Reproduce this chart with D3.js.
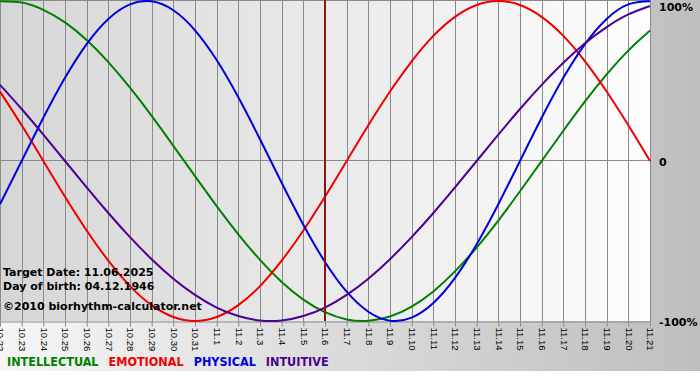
<!DOCTYPE html>
<html>
<head>
<meta charset="utf-8">
<script src="https://cdn.jsdelivr.net/npm/d3@7"></script>
<style>
  body { margin: 0; background: #fff; }
  svg { display: block; }
</style>
</head>
<body>
<div id="chart"></div>
<script>
// days shown on the x axis (month.day)
const days = ["10.22", "10.23", "10.24", "10.25", "10.26", "10.27", "10.28", "10.29", "10.30", "10.31",
    "11.1", "11.2", "11.3", "11.4", "11.5", "11.6", "11.7", "11.8", "11.9", "11.10", "11.11",
    "11.12", "11.13", "11.14", "11.15", "11.16", "11.17", "11.18", "11.19", "11.20", "11.21"];

// cycle values per day, -1 .. 1
const intellectual = [0.999, 0.990, 0.945, 0.866, 0.756, 0.618, 0.458, 0.282, 0.095, -0.095, -0.282,
    -0.458, -0.618, -0.756, -0.866, -0.945, -0.990, -0.999, -0.972, -0.910, -0.815,
    -0.690, -0.541, -0.372, -0.189, 0, 0.189, 0.372, 0.541, 0.690, 0.815];
const emotional = [0.434, 0.223, 0, -0.223, -0.434, -0.623, -0.782, -0.901, -0.975, -1, -0.975,
    -0.901, -0.782, -0.623, -0.434, -0.223, 0, 0.223, 0.434, 0.623, 0.782,
    0.901, 0.975, 1, 0.975, 0.901, 0.782, 0.623, 0.434, 0.223, 0];
const physical = [-0.270, 0, 0.270, 0.520, 0.731, 0.888, 0.979, 0.998, 0.942, 0.817, 0.631,
    0.398, 0.136, -0.136, -0.398, -0.631, -0.817, -0.942, -0.998, -0.979, -0.888,
    -0.731, -0.520, -0.270, 0, 0.270, 0.520, 0.731, 0.888, 0.979, 0.998];
const intuitive = [0.476, 0.325, 0.165, 0, -0.165, -0.325, -0.476, -0.614, -0.736, -0.837, -0.916,
    -0.969, -0.997, -0.997, -0.969, -0.916, -0.837, -0.736, -0.614, -0.476, -0.325,
    -0.165, 0, 0.165, 0.325, 0.476, 0.614, 0.736, 0.837, 0.916, 0.969];

const targetDay = "11.6";
const yTicks = [1, 0, -1];
const yTickLabels = ["100%", "0", "-100%"];
const infoLines = ["Target Date: 11.06.2025", "Day of birth: 04.12.1946", "\u00a92010 biorhythm-calculator.net"];

const series = [
    { name: "INTELLECTUAL", values: intellectual, color: "#008000" },
    { name: "EMOTIONAL", values: emotional, color: "#ee0000" },
    { name: "PHYSICAL", values: physical, color: "#0000dd" },
    { name: "INTUITIVE", values: intuitive, color: "#4b0090" }
];

const width = 700, height = 380;
const plotW = 650, plotH = 321;

const svg = d3.select("#chart").append("svg")
    .attr("width", width)
    .attr("height", height);

// background gradients
const defs = svg.append("defs");
const outerGrad = defs.append("linearGradient").attr("id", "outerGrad")
    .attr("x1", "0%").attr("x2", "100%").attr("y1", "0%").attr("y2", "0%");
outerGrad.append("stop").attr("offset", "0%").attr("stop-color", "#f6f6f6");
outerGrad.append("stop").attr("offset", "100%").attr("stop-color", "#bebebe");
const plotGrad = defs.append("linearGradient").attr("id", "plotGrad")
    .attr("x1", "0%").attr("x2", "100%").attr("y1", "0%").attr("y2", "0%");
plotGrad.append("stop").attr("offset", "0%").attr("stop-color", "#d6d6d6");
plotGrad.append("stop").attr("offset", "100%").attr("stop-color", "#fdfdfd");

svg.append("rect").attr("width", width).attr("height", 371).attr("fill", "url(#outerGrad)");
svg.append("rect").attr("width", plotW + 1).attr("height", plotH).attr("fill", "url(#plotGrad)");

// scales
const x = d3.scalePoint().domain(days).range([0, plotW]);
const y = d3.scaleLinear().domain([-1, 1]).range([plotH, 1]);
const crisp = v => Math.round(v) + 0.5;

// grid
svg.append("g").selectAll("line")
    .data(days)
    .join("line")
    .attr("x1", d => crisp(x(d))).attr("x2", d => crisp(x(d)))
    .attr("y1", 0).attr("y2", plotH)
    .attr("stroke", "#8a8a8a");
svg.append("line")
    .attr("x1", 0).attr("x2", plotW)
    .attr("y1", crisp(y(0)) - 1).attr("y2", crisp(y(0)) - 1)
    .attr("stroke", "#8a8a8a");
svg.append("line")
    .attr("x1", 0).attr("x2", plotW).attr("y1", 0.5).attr("y2", 0.5)
    .attr("stroke", "#8a8a8a");

// x axis
const xAxis = svg.append("g")
    .attr("transform", `translate(0,${plotH + 0.5})`)
    .call(d3.axisBottom(x).tickSize(5).tickSizeOuter(0));
xAxis.select(".domain").attr("stroke", "#8a8a8a");
xAxis.selectAll(".tick line").attr("stroke", "#8a8a8a");
xAxis.selectAll(".tick text")
    .attr("y", 0).attr("x", 6).attr("dy", "0.35em")
    .attr("transform", "rotate(90)")
    .style("text-anchor", "start")
    .style("font-family", "'Liberation Sans', Arial, sans-serif")
    .style("font-size", "9.5px")
    .attr("fill", "#000");

// curves
const line = d3.line()
    .x((d, i) => x(days[i]))
    .y(d => y(d))
    .curve(d3.curveNatural);

svg.append("g").selectAll("path")
    .data(series)
    .join("path")
    .attr("d", d => line(d.values))
    .attr("fill", "none")
    .attr("stroke", d => d.color)
    .attr("stroke-width", 2);

// target day marker
svg.append("line")
    .attr("x1", x(targetDay)).attr("x2", x(targetDay))
    .attr("y1", 0).attr("y2", plotH)
    .attr("stroke", "#8b1414")
    .attr("stroke-width", 2);

// right labels
svg.append("g").selectAll("text")
    .data(yTicks)
    .join("text")
    .attr("x", 659)
    .attr("y", d => Math.max(y(d) + 5, 11))
    .text((d, i) => yTickLabels[i])
    .style("font-family", "'DejaVu Sans', Verdana, sans-serif")
    .style("font-size", "11px")
    .style("font-weight", "bold")
    .attr("fill", "#000");

// info text
svg.append("g").selectAll("text")
    .data(infoLines)
    .join("text")
    .attr("x", 3)
    .attr("y", (d, i) => [276, 290, 310][i])
    .text(d => d)
    .style("font-family", "'DejaVu Sans', Verdana, sans-serif")
    .style("font-size", "11px")
    .style("font-weight", "bold")
    .attr("fill", "#000");

// legend
let lx = 7;
series.forEach(s => {
    const t = svg.append("text")
        .attr("x", lx).attr("y", 366)
        .text(s.name)
        .style("font-family", "'DejaVu Sans Condensed', 'DejaVu Sans', sans-serif")
        .style("font-stretch", "condensed")
        .style("font-size", "12.5px")
        .style("font-weight", "bold")
        .attr("fill", s.color);
    lx += t.node().getComputedTextLength() + 10;
});
</script>
</body>
</html>
